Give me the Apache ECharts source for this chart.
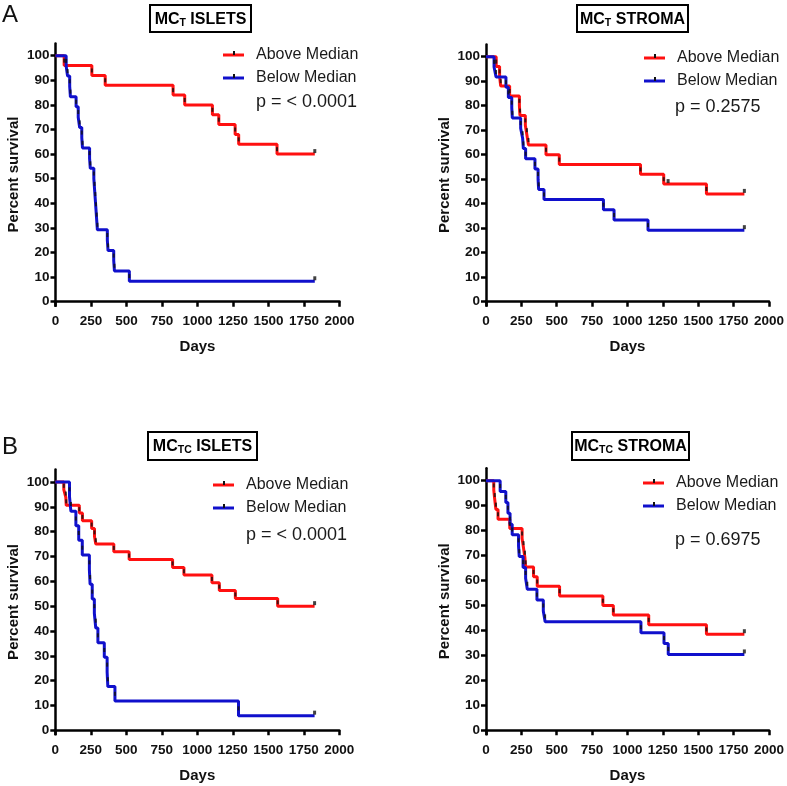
<!DOCTYPE html>
<html>
<head>
<meta charset="utf-8">
<script src="https://cdn.jsdelivr.net/npm/echarts@6/dist/echarts.min.js"></script>
<style>
  html, body { margin: 0; padding: 0; background: #fff; }
  #chart { width: 787px; height: 786px; }
</style>
</head>
<body>
<div id="chart"></div>
<script>
// days / percent survival (Kaplan-Meier steps)
// MCT ISLETS
const tIsletsAboveDays = [0, 61, 256, 350, 828, 910, 1105, 1150, 1265, 1290, 1560, 1826];
const tIsletsAboveSurv = [100, 96, 92, 88, 84, 80, 76, 72, 68, 64, 60, 60];
const tIsletsBelowDays = [0, 75, 85, 100, 105, 145, 160, 170, 185, 190, 240, 245, 270, 275, 280, 285, 290, 295, 365, 370, 410, 415, 520, 1826];
const tIsletsBelowSurv = [100, 95.8, 91.7, 87.5, 83.3, 79.2, 75, 70.8, 66.7, 62.5, 58.3, 54.2, 50, 45.8, 41.7, 37.5, 33.3, 29.2, 25, 20.8, 16.7, 12.5, 8.3, 8.3];
// MCT STROMA
const tStromaAboveDays = [0, 72, 96, 104, 167, 236, 240, 278, 289, 300, 424, 518, 1092, 1256, 1558, 1826];
const tStromaAboveSurv = [100, 96, 92, 88, 84, 80, 76, 72, 68, 64, 60, 56, 52, 48, 44, 44];
const tStromaBelowDays = [0, 57, 71, 141, 158, 182, 186, 245, 259, 264, 280, 346, 368, 372, 410, 830, 905, 1145, 1826];
const tStromaBelowSurv = [100, 95.8, 91.7, 87.5, 83.3, 79.2, 75, 70.8, 66.7, 62.5, 58.3, 54.2, 50, 45.8, 41.7, 37.5, 33.3, 29.2, 29.2];
// MCTC ISLETS
const tcIsletsAboveDays = [0, 60, 74, 77, 169, 191, 256, 276, 285, 412, 520, 826, 906, 1103, 1155, 1268, 1566, 1826];
const tcIsletsAboveSurv = [100, 96.9, 93.8, 90.6, 87.5, 84.4, 81.3, 78.1, 75, 71.9, 68.8, 65.6, 62.5, 59.4, 56.3, 53.1, 50, 50];
const tcIsletsBelowDays = [0, 100, 110, 145, 165, 190, 240, 245, 260, 275, 285, 300, 345, 365, 370, 420, 1290, 1826];
const tcIsletsBelowSurv = [100, 94.1, 88.2, 82.4, 76.5, 70.6, 64.7, 58.8, 52.9, 47.1, 41.2, 35.3, 29.4, 23.5, 17.6, 11.8, 5.9, 5.9];
// MCTC STROMA
const tcStromaAboveDays = [0, 55, 62, 70, 85, 168, 255, 265, 275, 280, 336, 362, 520, 826, 900, 1150, 1558, 1826];
const tcStromaAboveSurv = [100, 96.2, 92.3, 88.5, 84.6, 80.8, 76.9, 73.1, 69.2, 65.4, 61.5, 57.7, 53.8, 50, 46.2, 42.3, 38.5, 38.5];
const tcStromaBelowDays = [0, 100, 140, 155, 170, 185, 230, 235, 262, 280, 292, 360, 405, 418, 1095, 1258, 1288, 1826];
const tcStromaBelowSurv = [100, 95.7, 91.3, 87, 82.6, 78.3, 73.9, 69.6, 65.2, 60.9, 56.5, 52.2, 47.8, 43.5, 39.1, 34.8, 30.4, 30.4];

// censored subjects (days)
const tStromaAboveCensor = [1287, 1826];

const yTicks = [0, 10, 20, 30, 40, 50, 60, 70, 80, 90, 100];
const groupNames = ['Above Median', 'Below Median'];

const FONT = '"Liberation Sans", Arial, sans-serif';
const RED = '#ff1010';
const BLUE = '#1010cc';

// layout of the four panels (pixels)
const panels = [
  { sub: 'T', tail: ' ISLETS', p: 'p = < 0.0001', x0: 55.5, x1: 339.5, y100: 55.7, y0: 301.7,
    box: [150, 5, 101, 27], leg: [223, 55], pPos: [256, 102],
    above: [tIsletsAboveDays, tIsletsAboveSurv, [1826]], below: [tIsletsBelowDays, tIsletsBelowSurv, [1826]] },
  { sub: 'T', tail: ' STROMA', p: 'p = 0.2575', x0: 486, x1: 769, y100: 56.7, y0: 301.7,
    box: [577, 5, 111, 27], leg: [644, 58], pPos: [675, 107],
    above: [tStromaAboveDays, tStromaAboveSurv, tStromaAboveCensor], below: [tStromaBelowDays, tStromaBelowSurv, [1826]] },
  { sub: 'TC', tail: ' ISLETS', p: 'p = < 0.0001', x0: 55.3, x1: 339.3, y100: 482, y0: 730.3,
    box: [148, 432, 109, 28], leg: [213, 485], pPos: [246, 535],
    above: [tcIsletsAboveDays, tcIsletsAboveSurv, [1826]], below: [tcIsletsBelowDays, tcIsletsBelowSurv, [1826]] },
  { sub: 'TC', tail: ' STROMA', p: 'p = 0.6975', x0: 486, x1: 769, y100: 480.7, y0: 730.3,
    box: [572, 432, 117, 28], leg: [643, 483], pPos: [675, 540],
    above: [tcStromaAboveDays, tcStromaAboveSurv, [1826]], below: [tcStromaBelowDays, tcStromaBelowSurv, [1826]] }
];

const Y_MIN = -1.6, Y_MAX = 105;
const ROW_GAP = 23;

function survAt(days, surv, d) {
  let v = surv[0];
  for (let i = 0; i < days.length; i++) if (days[i] <= d) v = surv[i];
  return v;
}

const grid = [], xAxis = [], yAxis = [], series = [], legend = [], graphic = [];

panels.forEach((pn, i) => {
  const unit = (pn.y0 - pn.y100) / 100;
  const top = pn.y100 - (Y_MAX - 100) * unit;
  const bottom = pn.y0 - Y_MIN * unit;
  grid.push({ left: pn.x0, top: top, width: pn.x1 - pn.x0, height: bottom - top });

  xAxis.push({
    gridIndex: i, type: 'value', min: 0, max: 2000, interval: 250,
    name: 'Days', nameLocation: 'middle', nameGap: 34,
    nameTextStyle: { fontFamily: FONT, fontWeight: 'bold', fontSize: 15, color: '#111' },
    axisLine: { lineStyle: { color: '#000', width: 2.5 } },
    axisTick: { length: 5, lineStyle: { color: '#000', width: 2.5 } },
    axisLabel: { margin: 9, fontFamily: FONT, fontWeight: 'bold', fontSize: 13.5, color: '#111',
      formatter: v => String(v) },
    splitLine: { show: false }
  });
  yAxis.push({
    gridIndex: i, type: 'value', min: Y_MIN, max: Y_MAX,
    name: 'Percent survival', nameLocation: 'middle', nameGap: 34, nameRotate: 90,
    nameTextStyle: { fontFamily: FONT, fontWeight: 'bold', fontSize: 15, color: '#111' },
    axisLine: { lineStyle: { color: '#000', width: 2.5 } },
    axisTick: { length: 5, customValues: yTicks, lineStyle: { color: '#000', width: 2.5 } },
    axisLabel: { margin: 6, customValues: yTicks, fontFamily: FONT, fontWeight: 'bold', fontSize: 13.5, color: '#111' },
    splitLine: { show: false }
  });

  [[pn.above, RED, groupNames[0]], [pn.below, BLUE, groupNames[1]]].forEach(([grp, color, name], gi) => {
    const days = grp[0], surv = grp[1], censor = grp[2];
    series.push({
      name: name, type: 'line', step: 'end', xAxisIndex: i, yAxisIndex: i,
      showSymbol: false, symbol: 'none', color: color,
      lineStyle: { color: color, width: 3 },
      data: days.map((d, k) => [d, surv[k]]),
      silent: true, z: 2
    });
    // event marks on the drops
    const marks = [];
    for (let k = 1; k < days.length; k++) {
      if (surv[k] < surv[k - 1]) marks.push([days[k], (surv[k] + surv[k - 1]) / 2]);
    }
    series.push({
      type: 'scatter', xAxisIndex: i, yAxisIndex: i, symbol: 'rect', symbolSize: [2, 4],
      itemStyle: { color: '#111' }, data: marks, silent: true, z: 3
    });
    series.push({
      type: 'scatter', xAxisIndex: i, yAxisIndex: i, symbol: 'rect', symbolSize: [3, 4],
      symbolOffset: [0, -3], itemStyle: { color: '#111' },
      data: censor.map(d => [d, survAt(days, surv, d)]), silent: true, z: 3
    });
    // small black tick on the legend line
    graphic.push({
      type: 'rect', shape: { x: pn.leg[0] + 10, y: pn.leg[1] + gi * ROW_GAP - 4, width: 2, height: 4 },
      style: { fill: '#111' }, z: 100
    });
  });

  legend.push({
    data: groupNames, orient: 'vertical', left: pn.leg[0], top: pn.leg[1] - 8, padding: 0,
    itemWidth: 21, itemHeight: 3, itemGap: ROW_GAP - 16, icon: 'rect',
    textStyle: { fontFamily: FONT, fontSize: 16, color: '#1a1a1a', padding: [0, 0, 0, 7], lineHeight: 16 },
    selectedMode: false
  });

  graphic.push({
    type: 'rect', shape: { x: pn.box[0], y: pn.box[1], width: pn.box[2], height: pn.box[3] },
    style: { fill: '#fff', stroke: '#000', lineWidth: 2 }
  });
  graphic.push({
    type: 'text', x: pn.box[0] + pn.box[2] / 2, y: pn.box[1] + pn.box[3] / 2 + 1,
    style: {
      text: '{b|MC}{s|' + pn.sub + '}{b|' + pn.tail + '}',
      align: 'center', verticalAlign: 'middle',
      rich: {
        b: { fontFamily: FONT, fontWeight: 'bold', fontSize: 16, fill: '#000', lineHeight: 18 },
        s: { fontFamily: FONT, fontWeight: 'bold', fontSize: 10.5, fill: '#000', lineHeight: 18, padding: [7, 0, 0, 0] }
      }
    }
  });
  graphic.push({
    type: 'text', x: pn.pPos[0], y: pn.pPos[1],
    style: { text: pn.p, fontFamily: FONT, fontSize: 18, fill: '#1a1a1a', verticalAlign: 'middle' }
  });
});

graphic.push({ type: 'text', x: 2, y: 15, style: { text: 'A', fontFamily: FONT, fontSize: 24, fill: '#111', verticalAlign: 'middle' } });
graphic.push({ type: 'text', x: 2, y: 447, style: { text: 'B', fontFamily: FONT, fontSize: 24, fill: '#111', verticalAlign: 'middle' } });

const chart = echarts.init(document.getElementById('chart'), null, { renderer: 'canvas' });
chart.setOption({
  animation: false,
  backgroundColor: '#fff',
  grid: grid, xAxis: xAxis, yAxis: yAxis, series: series, legend: legend, graphic: graphic
});
</script>
</body>
</html>
